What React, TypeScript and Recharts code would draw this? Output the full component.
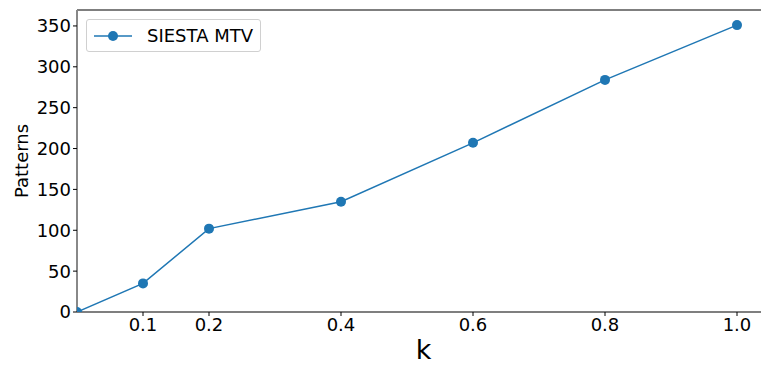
import React from "react";
import { LineChart, Line, XAxis, YAxis, ReferenceLine } from "recharts";

const kValues = [0, 0.1, 0.2, 0.4, 0.6, 0.8, 1.0];
const patterns = [0, 35, 102, 135, 207, 284, 351];
const xTicks = [0.1, 0.2, 0.4, 0.6, 0.8, 1.0];
const yTicks = [0, 50, 100, 150, 200, 250, 300, 350];
const seriesName = "SIESTA MTV";
const xMax = 1.05;
const yMax = 369.5;

const data = kValues.map((k, i) => ({ k, patterns: patterns[i] }));

const FONT = "DejaVu Sans, sans-serif";
const COLOR = "#1f77b4";

const LegendBox = () => (
  <div
    style={{
      position: "absolute",
      left: 86,
      top: 19,
      border: "1px solid #d0d0d0",
      borderRadius: 3,
      background: "rgba(255,255,255,0.8)",
      width: 175,
      height: 33,
      boxSizing: "border-box",
      display: "flex",
      alignItems: "center",
      fontFamily: FONT,
      fontSize: 18,
      color: "#000",
    }}
  >
    <svg width={46} height={20} style={{ marginLeft: 6 }}>
      <line x1={1} y1={10} x2={39} y2={10} stroke={COLOR} strokeWidth={1.5} />
      <circle cx={20} cy={10} r={5} fill={COLOR} />
    </svg>
    <span style={{ marginLeft: 8 }}>{seriesName}</span>
  </div>
);

export default function App() {
  return (
    <div
      style={{
        position: "absolute",
        left: 0,
        top: 0,
        width: 761,
        height: 367,
        overflow: "hidden",
        background: "#fff",
      }}
    >
      <LineChart
        width={771}
        height={367}
        data={data}
        margin={{ top: 10, right: 1, left: 0, bottom: 0 }}
      >
        <XAxis
          dataKey="k"
          type="number"
          domain={[0, xMax]}
          ticks={xTicks}
          allowDataOverflow
          tickFormatter={(v: number) => v.toFixed(1)}
          height={55}
          axisLine={{ stroke: "#000", strokeWidth: 1.2 }}
          tickLine={{ stroke: "#000" }}
          tickSize={4}
          tick={{ fontSize: 18, fill: "#000", fontFamily: FONT }}
          label={{
            value: "k",
            position: "insideBottom",
            offset: 8,
            fontSize: 27,
            fill: "#000",
            fontFamily: FONT,
          }}
        />
        <YAxis
          type="number"
          domain={[0, yMax]}
          ticks={yTicks}
          allowDataOverflow
          width={77}
          axisLine={{ stroke: "#888", strokeWidth: 2 }}
          tickLine={{ stroke: "#000" }}
          tickSize={4}
          tick={{ fontSize: 18, fill: "#000", fontFamily: FONT }}
          label={{
            value: "Patterns",
            angle: -90,
            position: "insideLeft",
            offset: 22,
            fontSize: 18,
            fill: "#000",
            fontFamily: FONT,
            style: { textAnchor: "middle" },
          }}
        />
        <ReferenceLine y={yMax} stroke="#000" strokeWidth={1.2} ifOverflow="visible" />
        <Line
          type="linear"
          dataKey="patterns"
          name={seriesName}
          stroke={COLOR}
          strokeWidth={1.5}
          dot={{ r: 5, fill: COLOR, stroke: COLOR, strokeWidth: 0 }}
          activeDot={false}
          isAnimationActive={false}
        />
      </LineChart>
      <LegendBox />
    </div>
  );
}
